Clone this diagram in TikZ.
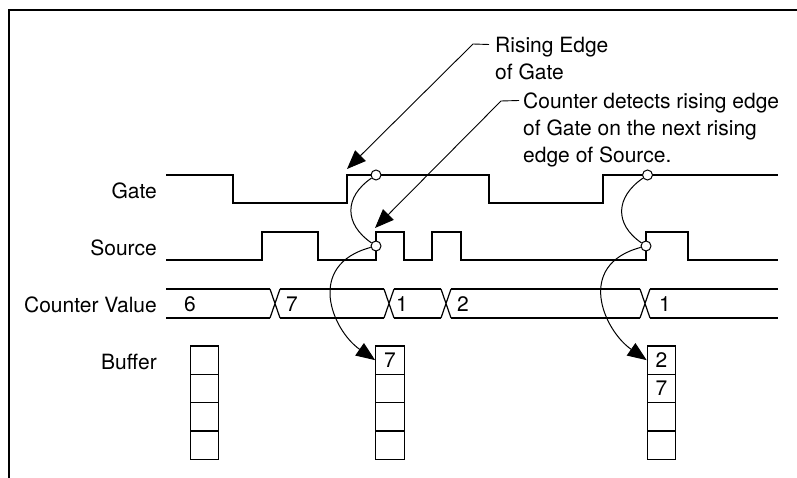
\documentclass[tikz,border=0pt]{standalone}
\usepackage{fontspec}
\setmainfont{TeX Gyre Heros}
\usetikzlibrary{arrows.meta}

\begin{document}
\begin{tikzpicture}[x=1pt, y=-1pt,
    font=\fontsize{21}{27}\selectfont,
    sig/.style={line width=1.2pt},
    ring/.style={circle, draw, fill=white, line width=1pt, minimum size=10pt, inner sep=0pt},
    cell/.style={draw, line width=1.2pt, minimum width=28.5pt, minimum height=28.3pt, inner sep=0pt},
    lbl/.style={anchor=east, inner sep=0pt},
    val/.style={anchor=west, inner sep=0pt},
    note/.style={anchor=north west, align=left, inner sep=0pt},
    callout/.style={line width=0.9pt, -{Triangle[length=19pt,width=15pt]}},
    hop/.style={line width=1pt, -{Triangle[length=19pt,width=15pt]}}]
  \useasboundingbox (0,0) rectangle (797,478);
  % frame
  \draw[line width=2pt] (9,478) -- (9,10) -- (797,10);

  % signal names
  \node[lbl] (gate) at (157,191) {Gate};
  \node[lbl] (source) at (157,248) {Source};
  \node[lbl] (count) at (157,305) {Counter Value};
  \node[lbl] (buffer) at (157,362) {Buffer};

  % gate and source
  \draw[sig] (166,175) -- (233,175) -- (233,203) -- (347,203) -- (347,175)
    -- (489,175) -- (489,203) -- (603,203) -- (603,175) -- (778,175);
  \draw[sig] (166,260) -- (262,260) -- (262,232) -- (318,232) -- (318,260)
    -- (376,260) -- (376,232) -- (404,232) -- (404,260) -- (432,260)
    -- (432,232) -- (461,232) -- (461,260) -- (646,260) -- (646,232)
    -- (688,232) -- (688,260) -- (778,260);

  % counter value bus
  \foreach \a/\b in {166/270,280/384,394/441,451/640,650/778}
    \draw[sig] (\a,289) -- (\b,289) (\a,318) -- (\b,318);
  \foreach \c in {275,389,446,645}
    \draw[sig] (\c-5,289) -- (\c+5,318) (\c-5,318) -- (\c+5,289);
  \node[val] (v6) at (184,304) {6};
  \node[val] (v7) at (286,304) {7};
  \node[val] (v1) at (396,304) {1};
  \node[val] (v2) at (457,304) {2};
  \node[val] (v1b) at (659,304) {1};

  % buffers
  \foreach \col/\x in {a/204.5,b/390,c/661.5}
    \foreach \r in {1,...,4}
      \node[cell] (\col\r) at (\x,{331.85+28.3*\r}) {};
  \node (b1t) at (b1) {7};
  \node (c1t) at (c1) {2};
  \node (c2t) at (c2) {7};

  % detection points
  \node[ring] (g1) at (376,175) {};
  \node[ring] (s1) at (376,246) {};
  \node[ring] (g2) at (647.5,175) {};
  \node[ring] (s2) at (646,246) {};
  \draw[line width=1pt] (g1) .. controls +(-32,22) and +(-32,-22) .. (s1);
  \draw[hop] (s1) .. controls +(-71,19) and +(-43,-30) .. (b1.west);
  \draw[line width=1pt] (g2) .. controls +(-32,22) and +(-32,-22) .. (s2);
  \draw[hop] (s2) .. controls +(-71,19) and +(-43,-30) .. (c1.west);

  % callouts
  \node[note] (rise) at (495,37) {Rising Edge\\of Gate};
  \node[note] (detect) at (523,92.5) {Counter detects rising edge\\of Gate on the next rising\\edge of Source.};
  \coordinate (k1) at (473,44);
  \coordinate (e1) at (347,169);
  \coordinate (k2) at (501,101);
  \coordinate (e2) at (375,228);
  \draw[callout] ([xshift=-6pt,yshift=-7.5pt]rise.north west) -- (k1) -- (e1);
  \draw[callout] ([xshift=-4pt,yshift=-8pt]detect.north west) -- (k2) -- (e2);
\end{tikzpicture}
\end{document}
